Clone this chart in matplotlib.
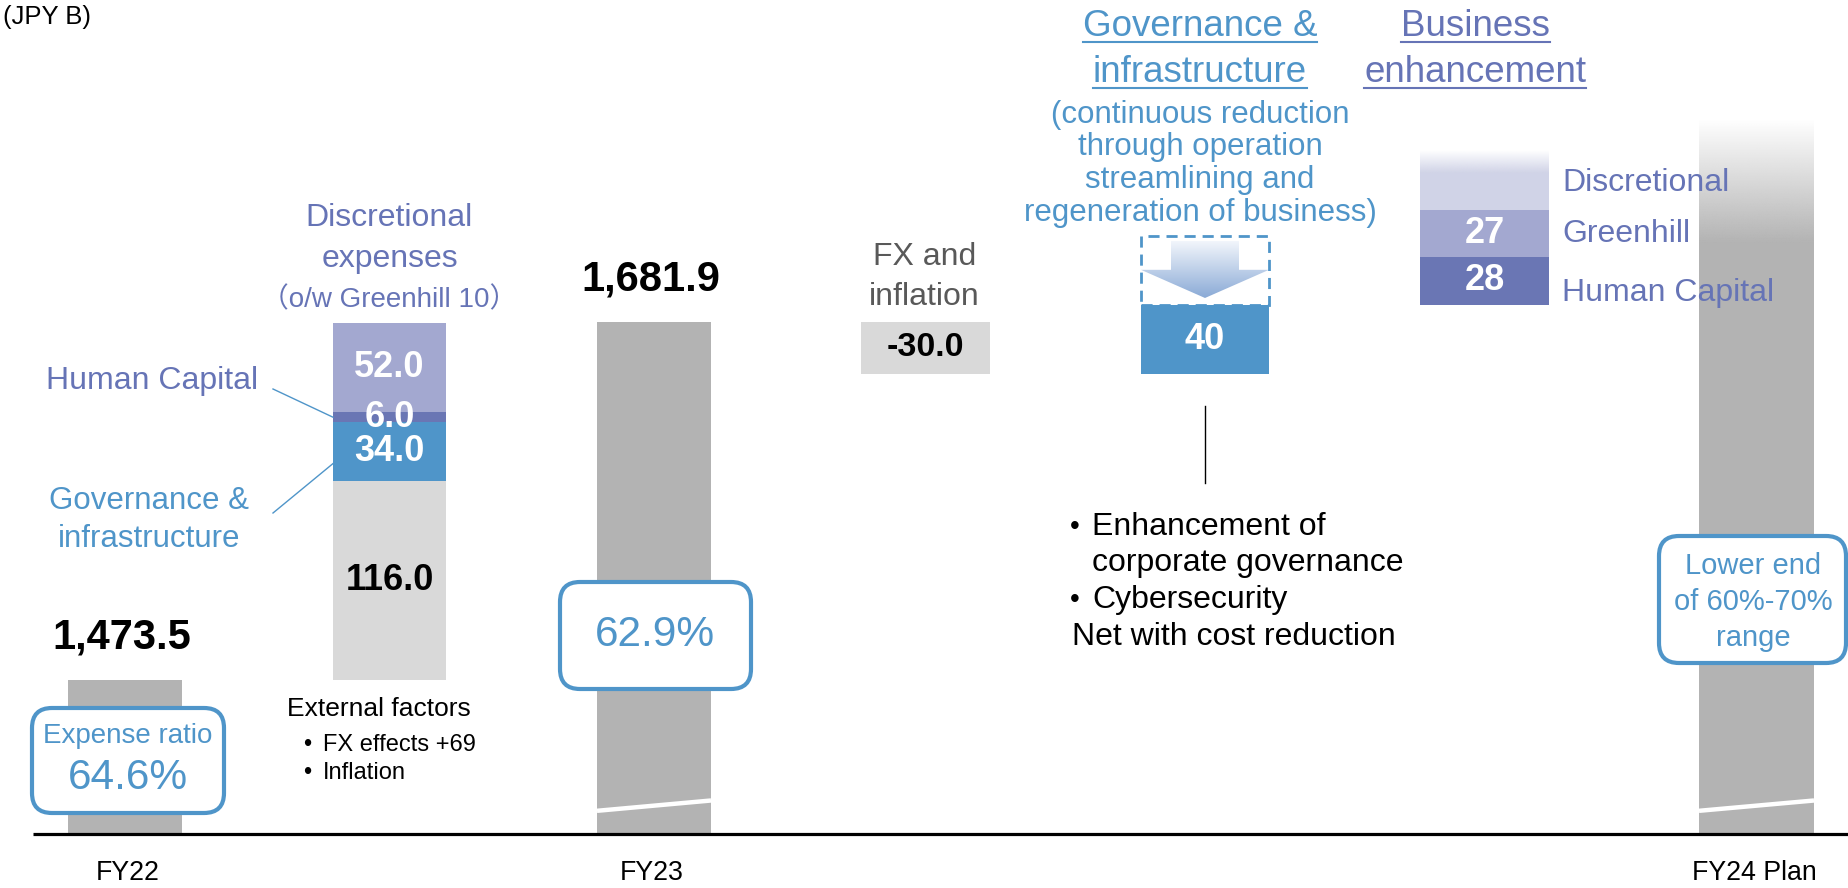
import numpy as np
import matplotlib
matplotlib.use("Agg")
import matplotlib.pyplot as plt
from matplotlib.patches import Rectangle, FancyBboxPatch, Polygon
from matplotlib.colors import to_rgb

# ------------------------------------------------------------------ data
periods = ["FY22", "FY23", "FY24 Plan"]
period_totals = [1473.5, 1681.9]
expense_ratios = ["64.6%", "62.9%", "Lower end\nof 60%-70%\nrange"]
fy24_plan_top_est = 1800.0          # unlabeled

increase_labels = ["External factors", "Governance &\ninfrastructure",
                   "Human Capital", "Discretional"]
increase_values = [116.0, 34.0, 6.0, 52.0]
external_notes = ["FX effects +69", "Inflation"]

fx_inflation_value = -30.0
gov_reduction_value = 40
gov_notes = ["Enhancement of\ncorporate governance", "Cybersecurity"]

biz_labels = ["Human Capital", "Greenhill", "Discretional"]
biz_values = [28, 27, 35]           # discretional unlabeled; estimated
biz_show = [True, True, False]

# ------------------------------------------------------------------ layout / style
W, H = 1848, 888
AXIS_PX = 834
BASE = 1383.9          # value at the (broken) axis line
PX_PER_UNIT = 1.718
SLOT_X = [125, 389.5, 654, 925.5, 1205, 1484.5, 1756.5]   # column centres (px)
SLOT_W = [114, 113, 114, 129, 128, 129, 115]              # column widths (px)

GRAY = "#b3b3b3"
LGRAY = "#d9d9d9"
BLUE = "#4f95c9"
HCP = "#6a76b4"
LAV = "#a3a8d0"
PALE = "#d0d3e7"
TPURPLE = "#6674b6"
FONT = "Liberation Sans"

plt.rcParams["font.family"] = [FONT, "DejaVu Sans"]

fig = plt.figure(figsize=(W / 100, H / 100), dpi=100)
ax = fig.add_axes([0, 0, 1, 1])
ax.axis("off")
ov = fig.add_axes([0, 0, 1, 1])
ov.axis("off")
ov.patch.set_alpha(0)
ov.set_xlim(0, W)
ov.set_ylim(H, 0)


def v2px(v):
    return AXIS_PX - (v - BASE) * PX_PER_UNIT


def vgrad(x0, x1, y0, y1, c_bot, c_top, a_bot, a_top, z=2, clip=None):
    n = 256
    t = np.linspace(0, 1, n)[:, None]
    cb = np.array(to_rgb(c_bot))
    ct = np.array(to_rgb(c_top))
    img = np.zeros((n, 1, 4))
    img[..., :3] = (cb + (ct - cb) * t[..., None])
    img[..., 3] = np.clip(a_bot + (a_top - a_bot) * t, 0, 1)
    im = ax.imshow(img, extent=[x0, x1, y0, y1], origin="lower",
                   aspect="auto", zorder=z, interpolation="bilinear")
    if clip is not None:
        im.set_clip_path(clip)
    return im


# ---- FY22 / FY23 bars
for slot, tot in zip([0, 2], period_totals):
    ax.bar(SLOT_X[slot], tot - BASE, bottom=BASE, width=SLOT_W[slot], color=GRAY, zorder=2)

# ---- increase stack
inc_colors = [LGRAY, BLUE, HCP, LAV]
inc_txtc = ["black", "white", "white", "white"]
bottom = period_totals[0]
inc_centers = []
for val, col, tc in zip(increase_values, inc_colors, inc_txtc):
    ax.bar(SLOT_X[1], val, bottom=bottom, width=SLOT_W[1], color=col, zorder=2)
    c = bottom + val / 2
    inc_centers.append(c)
    ax.text(SLOT_X[1], c, f"{val:.1f}", ha="center", va="center", fontsize=26,
            fontweight="bold", color=tc, zorder=5)
    bottom += val

# ---- FX & inflation
ax.bar(SLOT_X[3], fx_inflation_value, bottom=period_totals[1], width=SLOT_W[3],
       color=LGRAY, zorder=2)
ax.text(SLOT_X[3], period_totals[1] + fx_inflation_value / 2, f"{fx_inflation_value:.1f}",
        ha="center", va="center", fontsize=24.5, fontweight="bold", color="black", zorder=5)

# ---- governance reduction
gx0, gw = SLOT_X[4], SLOT_W[4]
level = period_totals[1] + fx_inflation_value
ax.bar(gx0, gov_reduction_value, bottom=level, width=gw, color=BLUE, zorder=2)
ax.text(gx0, level + gov_reduction_value / 2, f"{gov_reduction_value}", ha="center",
        va="center", fontsize=26, fontweight="bold", color="white", zorder=5)
dtop = level + 2 * gov_reduction_value
dbot = level + gov_reduction_value
ax.add_patch(Rectangle((gx0 - gw / 2, dbot), gw, gov_reduction_value, fill=False,
                       ec=BLUE, lw=2, ls=(0, (4, 2.5)), zorder=4))
hgt = dtop - dbot
sh = 34
hh = gw / 2
arrow = Polygon([(gx0 - sh, dtop - 0.07 * hgt), (gx0 + sh, dtop - 0.07 * hgt),
                 (gx0 + sh, dtop - 0.49 * hgt), (gx0 + hh, dtop - 0.49 * hgt),
                 (gx0, dtop - 0.90 * hgt), (gx0 - hh, dtop - 0.49 * hgt),
                 (gx0 - sh, dtop - 0.49 * hgt)], closed=True, fc="none", ec="none",
                transform=ax.transData)
ax.add_patch(arrow)
vgrad(gx0 - hh, gx0 + hh, dtop - 0.90 * hgt, dtop - 0.07 * hgt, "#8aaad6", "#f4f7fc",
      1, 1, z=3, clip=arrow)

# ---- business enhancement stack
bx0, bw0 = SLOT_X[5], SLOT_W[5]
bcolors = [HCP, LAV, PALE]
b = dbot
biz_centers = []
for lab, val, col, show in zip(biz_labels, biz_values, bcolors, biz_show):
    if show:
        ax.bar(bx0, val, bottom=b, width=bw0, color=col, zorder=2)
        ax.text(bx0, b + val / 2, f"{val}", ha="center", va="center", fontsize=26,
                fontweight="bold", color="white", zorder=5)
    else:
        solid = 0.62 * val
        ax.bar(bx0, solid, bottom=b, width=bw0, color=col, zorder=2)
        vgrad(bx0 - bw0 / 2, bx0 + bw0 / 2, b + solid, b + val, col, col, 1, 0, z=2)
    biz_centers.append(b + val / 2)
    b += val

# ---- FY24 plan bar (top fading)
fx6, fw6 = SLOT_X[6], SLOT_W[6]
fade = 72
ax.bar(fx6, fy24_plan_top_est - fade - BASE, bottom=BASE, width=fw6, color=GRAY, zorder=1)
vgrad(fx6 - fw6 / 2, fx6 + fw6 / 2, fy24_plan_top_est - fade, fy24_plan_top_est,
      GRAY, GRAY, 1, 0, z=1)

# ---- break marks
for slot in (2, 6):
    ax.plot([SLOT_X[slot] - SLOT_W[slot] / 2, SLOT_X[slot] + SLOT_W[slot] / 2],
            [BASE + 13.5, BASE + 19.5], color="white", lw=3.2,
            solid_capstyle="butt", zorder=3)

# ---- axis line
ax.plot([33, W + 10], [BASE, BASE], color="black", lw=2.3, zorder=6,
        solid_capstyle="butt")

ax.set_xlim(0, W)
ax.set_ylim(BASE - (H - AXIS_PX) / PX_PER_UNIT, BASE + AXIS_PX / PX_PER_UNIT)

# ------------------------------------------------------------------ overlay text
ov.text(3, 17, "(JPY B)", ha="left", va="center", fontsize=18.5, color="black")

for slot, tot in zip([0, 2], period_totals):
    ov.text(SLOT_X[slot] - 3, v2px(tot) - 43, f"{tot:,.1f}", ha="center", va="center",
            fontsize=30, fontweight="bold", color="black")

# expense ratio boxes
boxes = [(32, 708, 192, 105), (560, 582, 191, 107), (1659, 536, 187, 127)]
for (bx, by, bw, bh) in boxes:
    ov.add_patch(FancyBboxPatch((bx, by), bw, bh, boxstyle="round,pad=0,rounding_size=20",
                                fc="white", ec=BLUE, lw=3, zorder=3))
ov.text(128, 736, "Expense ratio", ha="center", va="center", fontsize=20, color=BLUE, zorder=4)
ov.text(128, 778, expense_ratios[0], ha="center", va="center", fontsize=30.5, color=BLUE, zorder=4)
ov.text(655, 635, expense_ratios[1], ha="center", va="center", fontsize=30.5, color=BLUE, zorder=4)
for i, line in enumerate(expense_ratios[2].split("\n")):
    ov.text(1753, 566 + i * 36, line, ha="center", va="center", fontsize=21,
            color=BLUE, zorder=4)

# discretional expenses header
cx1 = SLOT_X[1]
ov.text(cx1, 218, "Discretional", ha="center", va="center", fontsize=23, color=TPURPLE)
ov.text(cx1, 259, "expenses", ha="center", va="center", fontsize=23, color=TPURPLE)
ov.text(cx1, 300, "\uff08o/w Greenhill 10\uff09", ha="center", va="center", fontsize=20,
        color=TPURPLE, family=[FONT, "Noto Sans CJK JP", "DejaVu Sans"])

# Human capital / governance labels with leader lines
ov.text(258, 381, increase_labels[2], ha="right", va="center", fontsize=23, color=TPURPLE)
ov.text(149, 501, "Governance &", ha="center", va="center", fontsize=22.5, color=BLUE)
ov.text(149, 539, "infrastructure", ha="center", va="center", fontsize=22.5, color=BLUE)
stack_left = SLOT_X[1] - SLOT_W[1] / 2
ov.plot([273, stack_left], [389, v2px(inc_centers[2])], color=BLUE, lw=1)
ov.plot([273, stack_left], [513, v2px(inc_centers[1]) + 12], color=BLUE, lw=1)

# external factors
ov.text(287, 709, increase_labels[0], ha="left", va="center", fontsize=19, color="black")
for i, note in enumerate(external_notes):
    ov.text(307, 745 + i * 28, "\u2022", ha="center", va="center", fontsize=17)
    ov.text(323, 745 + i * 28, note, ha="left", va="center", fontsize=17)

# FX and inflation
ov.text(SLOT_X[3] - 1, 257, "FX and", ha="center", va="center", fontsize=23, color="#595959")
ov.text(SLOT_X[3] - 1, 297, "inflation", ha="center", va="center", fontsize=23, color="#595959")

# governance title
gx = SLOT_X[4] - 5
titles = []
titles.append(ov.text(gx, 27, "Governance &", ha="center", va="center", fontsize=26.5, color=BLUE))
titles.append(ov.text(gx, 73, "infrastructure", ha="center", va="center", fontsize=26.5, color=BLUE))
for i, line in enumerate(["(continuous reduction", "through operation",
                          "streamlining and", "regeneration of business)"]):
    ov.text(gx, 115 + i * 32.5, line, ha="center", va="center", fontsize=22.5, color=BLUE)
ov.plot([SLOT_X[4], SLOT_X[4]], [406, 483], color="black", lw=1)
ov.text(1075, 527, "\u2022", ha="center", va="center", fontsize=20)
ov.text(1092, 527, "Enhancement of", ha="left", va="center", fontsize=23)
ov.text(1092, 563, "corporate governance", ha="left", va="center", fontsize=23)
ov.text(1075, 600, "\u2022", ha="center", va="center", fontsize=20)
ov.text(1092, 600, gov_notes[1], ha="left", va="center", fontsize=23)
ov.text(1072, 637, "Net with cost reduction", ha="left", va="center", fontsize=23)

# business title
btx = 1475
titles.append(ov.text(btx, 27, "Business", ha="center", va="center", fontsize=26.5, color=TPURPLE))
titles.append(ov.text(btx, 73, "enhancement", ha="center", va="center", fontsize=26.5, color=TPURPLE))
label_nudge = {"Human Capital": 12, "Greenhill": 0, "Discretional": 3}
for lab, c in zip(biz_labels, biz_centers):
    ov.text(1562, v2px(c) + label_nudge[lab], lab, ha="left",
            va="center", fontsize=23, color=TPURPLE, zorder=5)

# x labels
for slot, p in zip([0, 2, 6], periods):
    ov.text(SLOT_X[slot] + (3 if slot == 0 else -2), 873, p, ha="center", va="center",
            fontsize=19.3, color="black")

# underlines for titles
fig.canvas.draw()
r = fig.canvas.get_renderer()
inv = ov.transData.inverted()
for t in titles:
    bb = t.get_window_extent(r)
    (x0, y0), (x1, _) = inv.transform([(bb.x0, bb.y0), (bb.x1, bb.y1)])
    ov.plot([x0, x1], [y0 - 3, y0 - 3], color=t.get_color(), lw=1.5)

fig.savefig("out.png", dpi=100)
